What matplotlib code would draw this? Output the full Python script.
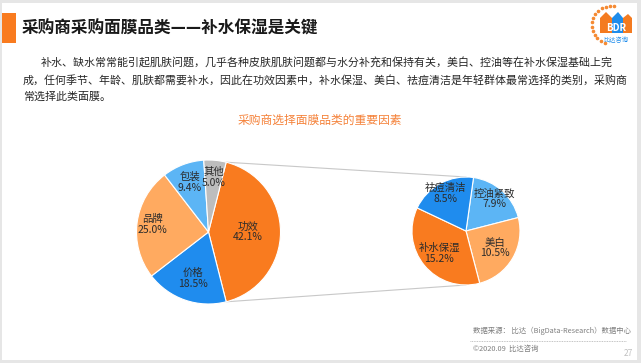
import matplotlib
matplotlib.use("Agg")
import matplotlib.pyplot as plt
import numpy as np
from matplotlib.patches import Rectangle, Polygon

plt.rcParams['font.family'] = ['Noto Sans CJK SC', 'DejaVu Sans']

# ---- data ----
main_labels = ["功效", "价格", "品牌", "包装", "其他"]
main_values = [42.1, 18.5, 25.0, 9.4, 5.0]
sub_labels = ["控油紧致", "美白", "补水保湿", "祛痘清洁"]
sub_values = [7.9, 10.5, 15.2, 8.5]

title = "采购商采购面膜品类——补水保湿是关键"
para_lines = [
    "补水、缺水常常能引起肌肤问题，几乎各种皮肤肌肤问题都与水分补充和保持有关，美白、控油等在补水保湿基础上完",
    "成，任何季节、年龄、肌肤都需要补水，因此在功效因素中，补水保湿、美白、祛痘清洁是年轻群体最常选择的类别，采购商",
    "常选择此类面膜。",
]
chart_title = "采购商选择面膜品类的重要因素"
source_text = "数据来源： 比达（BigData-Research）数据中心"
copyright_text = "©2020.09  比达咨询"
page_no = "27"

# ---- style ----
ORANGE = "#F97B1F"
BLUE = "#1F8CEE"
LORANGE = "#FFAA60"
LBLUE = "#5CB5F5"
GRAY = "#BDBDBD"
main_colors = [ORANGE, BLUE, LORANGE, LBLUE, GRAY]
sub_colors = [LBLUE, LORANGE, ORANGE, BLUE]
main_lab_r = [0.55, 0.68, 0.78, 0.74, 0.76]
sub_lab_r = [0.80, 0.62, 0.64, 0.80]

W, H = 641, 363
fig = plt.figure(figsize=(W / 100, H / 100), dpi=100)
fig.patch.set_facecolor("#E6E6E6")
ax = fig.add_axes([0, 0, 1, 1])
ax.set_facecolor("#E6E6E6")

def Y(y):
    return H - y

# white slide area
ax.add_patch(Rectangle((2, Y(360)), 635, 357, facecolor="white", edgecolor="none", zorder=0))
# orange title bar
ax.add_patch(Rectangle((2, Y(43)), 14, 30, facecolor="#F97B1F", edgecolor="none", zorder=1))

ax.text(22, Y(29), title, fontsize=12, fontweight="bold", color="#1a1a1a",
        va="center", ha="left")

# paragraph
ax.text(41, Y(63), para_lines[0], fontsize=7.9, color="#262626", va="center", ha="left")
ax.text(23, Y(80), para_lines[1], fontsize=7.9, color="#262626", va="center", ha="left")
ax.text(23, Y(97), para_lines[2], fontsize=7.9, color="#262626", va="center", ha="left")

ax.text(320, Y(120), chart_title, fontsize=8.5, color="#F5823A", va="center", ha="center")

# ---- pies ----
c1 = (208.5, Y(232)); r1 = 72
c2 = (466, Y(231)); r2 = 54

main_total = sum(main_values)
start1 = (main_values[0] / main_total * 360) / 2  # centre first slice on the right
w1, _ = ax.pie(main_values, colors=main_colors, startangle=start1, counterclock=False,
               center=c1, radius=r1, frame=True,
               wedgeprops=dict(edgecolor="white", linewidth=0.8))
start2 = 82
w2, _ = ax.pie(sub_values, colors=sub_colors, startangle=start2, counterclock=False,
               center=c2, radius=r2, frame=True,
               wedgeprops=dict(edgecolor="white", linewidth=0.8))

def put_labels(wedges, labels, values, center, r, rf):
    for w, lab, v, f in zip(wedges, labels, values, rf):
        mid = np.deg2rad((w.theta1 + w.theta2) / 2)
        x = center[0] + f * r * np.cos(mid)
        y = center[1] + f * r * np.sin(mid)
        ax.text(x, y, f"{lab}\n{v:.1f}%", fontsize=7.5, color="#2b2b2b",
                ha="center", va="center", linespacing=1.1, zorder=5)

put_labels(w1, main_labels, main_values, c1, r1, main_lab_r)
put_labels(w2, sub_labels, sub_values, c2, r2, sub_lab_r)

# connector lines from the split slice to the secondary pie
wf = w1[0]
for ang, sign in [(wf.theta2, 1), (wf.theta1, -1)]:
    a = np.deg2rad(ang)
    x0 = c1[0] + r1 * np.cos(a)
    y0 = c1[1] + r1 * np.sin(a)
    ax.plot([x0, c2[0]], [y0, c2[1] + sign * r2], color="#C8C8C8", lw=0.8, zorder=0.5)

# ---- footer ----
ax.text(473, Y(331), source_text, fontsize=5.3, color="#7F7F7F", va="center", ha="left")
ax.plot([470, 626], [Y(341), Y(341)], color="#B0B0B0", lw=0.6, ls=(0, (1, 1)))
ax.text(473, Y(349), copyright_text, fontsize=5.3, color="#7F7F7F", va="center", ha="left")
ax.text(633, Y(354), page_no, fontsize=6, color="#C0C0C0", va="center", ha="right")

# ---- logo ----
th = np.linspace(np.deg2rad(80), np.deg2rad(250), 14)
ax.scatter(611 + 19 * np.cos(th), Y(25) + 19 * np.sin(th), s=2.5, color="#F58A33", zorder=3)
ax.add_patch(Polygon([(600, Y(33)), (600, Y(18)), (606, Y(12)), (612, Y(18)), (612, Y(33))],
                     closed=True, facecolor="#F47B20", edgecolor="none", zorder=3))
ax.add_patch(Polygon([(612, Y(33)), (612, Y(18)), (618, Y(12)), (623, Y(18)), (623, Y(33))],
                     closed=True, facecolor="#1E8CEB", edgecolor="none", zorder=3))
ax.add_patch(Polygon([(623, Y(33)), (623, Y(18)), (628, Y(14)), (632, Y(18)), (632, Y(33))],
                     closed=True, facecolor="#F47B20", edgecolor="none", zorder=3))
ax.text(616, Y(28), "BDR", fontsize=7, color="white", fontweight="bold",
        ha="center", va="center", zorder=4)
ax.text(616, Y(40), "比达咨询", fontsize=4.5, color="#1E8CEB", ha="center", va="center", zorder=4)

ax.set_xlim(0, W)
ax.set_ylim(0, H)
ax.set_aspect("auto")
ax.axis("off")

fig.savefig("out.png", dpi=100, facecolor=fig.get_facecolor())
